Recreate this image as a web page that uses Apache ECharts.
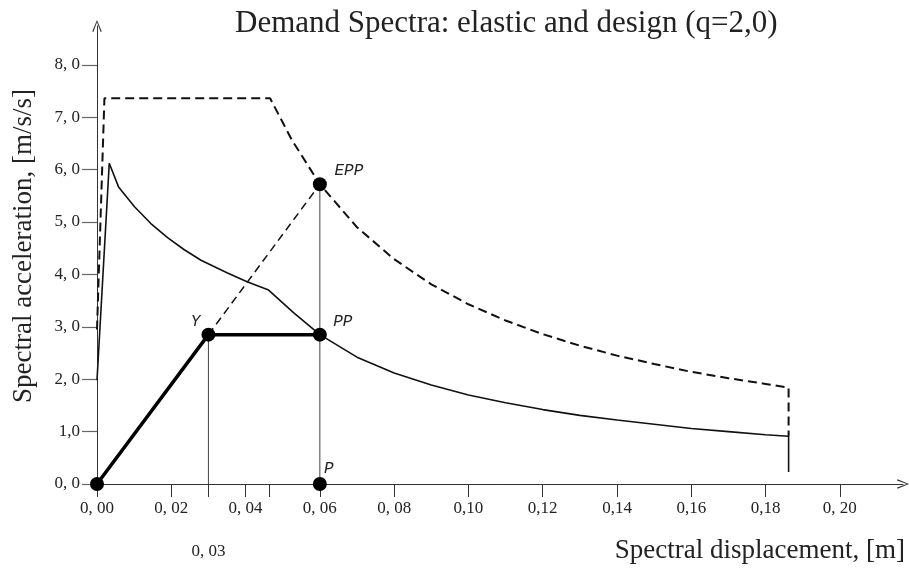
<!DOCTYPE html>
<html>
<head>
<meta charset="utf-8">
<script src="https://cdn.jsdelivr.net/npm/echarts@6/dist/echarts.min.js"></script>
<style>
  html, body { margin: 0; padding: 0; background: #fff; }
  #chart { width: 909px; height: 572px; }
</style>
</head>
<body>
<div id="chart"></div>
<script>
"use strict";
/** Tick positions and the labels printed under / beside them */
const xTickValues = [0, 0.02, 0.04, 0.06, 0.08, 0.10, 0.12, 0.14, 0.16, 0.18, 0.20];
const xTickLabels = ["0, 00", "0, 02", "0, 04", "0, 06", "0, 08", "0,10", "0,12", "0,14", "0,16", "0,18", "0, 20"];
/** extra marks on the displacement axis (yield and corner) */
const xExtraTicks = [0.03, 0.0465];
const yTickValues = [0, 1, 2, 3, 4, 5, 6, 7, 8];
const yTickLabels = ["0, 0", "1,0", "2, 0", "3, 0", "4, 0", "5, 0", "6, 0", "7, 0", "8, 0"];

/** Elastic demand spectrum (dashed) */
const elasticD = [0, 0.002, 0.0466, 0.0525, 0.06, 0.07, 0.08, 0.09, 0.10, 0.11, 0.12, 0.13, 0.14, 0.15, 0.16, 0.17, 0.18, 0.1862, 0.1862];
const elasticSa = [2.95, 7.36, 7.36, 6.56, 5.72, 4.90, 4.29, 3.81, 3.43, 3.12, 2.86, 2.64, 2.45, 2.29, 2.14, 2.02, 1.91, 1.84, 0.91];

/** Design spectrum, q = 2 (thin solid) */
const designD = [0, 0.0033, 0.0058, 0.0101, 0.0145, 0.019, 0.0235, 0.028, 0.035, 0.0404, 0.0462, 0.0529, 0.06, 0.07, 0.08, 0.09, 0.10, 0.11, 0.12, 0.13, 0.14, 0.15, 0.16, 0.17, 0.18, 0.1862, 0.1862];
const designSa = [1.98, 6.12, 5.67, 5.29, 4.97, 4.70, 4.47, 4.27, 4.03, 3.86, 3.70, 3.27, 2.85, 2.42, 2.12, 1.89, 1.70, 1.55, 1.42, 1.31, 1.22, 1.14, 1.06, 1.00, 0.94, 0.91, 0.23];

/** Bilinear capacity curve */
const capacityD = [0, 0.03, 0.06];
const capacitySa = [0, 2.85, 2.85];

/** Marked points */
const pointNames = ["", "Y", "PP", "EPP", "P"];
const pointD = [0, 0.03, 0.06, 0.06, 0.06];
const pointSa = [0, 2.85, 2.85, 5.72, 0];

/** Yield displacement printed below the axis */
const yieldLabel = "0, 03";

const title = "Demand Spectra: elastic and design (q=2,0)";
const yName = "Spectral acceleration, [m/s/s]";
const xName = "Spectral displacement, [m]";

const serif = "'Liberation Serif', 'Times New Roman', serif";
const ink = "#111";

function Pairs(xs, ys) {
    return xs.map((x, i) => [x, ys[i]]);
}

// label placement around each dot (left/up of Y, right/up of the others)
const labelOffsets = {
    "Y": [-13, -13],
    "PP": [23, -13],
    "EPP": [29, -13],
    "P": [9, -15]
};

const arrowPath = "path://M5,0 L10,12 L8.8,12.6 L5,2.4 L1.2,12.6 L0,12 Z";

let chart = echarts.init(document.getElementById("chart"), null, { renderer: "canvas" });

chart.setOption({
    animation: false,
    backgroundColor: "#fff",
    title: {
        text: title,
        left: 230,
        top: 3,
        textStyle: { fontFamily: serif, fontSize: 31, fontWeight: "normal", color: "#222" }
    },
    graphic: [{
        type: "text",
        right: 4,
        top: 537,
        style: { text: xName, font: "27px " + serif, fill: "#222" }
    }],
    grid: { left: 97, top: 26, right: 6, bottom: 88, containLabel: false, outerBoundsMode: "none" },
    xAxis: {
        type: "value",
        min: 0,
        max: 0.217,
        splitLine: { show: false },
        axisLine: {
            lineStyle: { color: "#333", width: 1 },
            symbol: ["none", arrowPath],
            symbolSize: [10, 12]
        },
        axisTick: {
            length: 13,
            lineStyle: { color: "#333", width: 1 },
            customValues: xTickValues.concat(xExtraTicks).sort((a, b) => a - b)
        },
        axisLabel: {
            customValues: xTickValues,
            margin: 16,
            fontFamily: serif,
            fontSize: 17,
            color: "#222",
            formatter: (v) => xTickLabels[Math.round(v / 0.02)]
        }
    },
    yAxis: {
        type: "value",
        min: 0,
        max: 8.74,
        name: yName,
        nameLocation: "middle",
        nameRotate: 90,
        nameGap: 60,
        nameTextStyle: { fontFamily: serif, fontSize: 27, color: "#222", padding: [0, 0, 0, 18] },
        splitLine: { show: false },
        axisLine: {
            lineStyle: { color: "#333", width: 1 },
            symbol: ["none", arrowPath],
            symbolSize: [10, 12]
        },
        axisTick: {
            length: 15,
            lineStyle: { color: "#666", width: 1.2 },
            customValues: yTickValues
        },
        axisLabel: {
            customValues: yTickValues,
            margin: 17,
            fontFamily: serif,
            fontSize: 17,
            color: "#222",
            verticalAlign: "middle",
            padding: [0, 0, 10, 0],
            formatter: (v) => yTickLabels[Math.round(v)]
        }
    },
    series: [
        {
            name: "elastic",
            type: "line",
            data: Pairs(elasticD, elasticSa),
            symbol: "none",
            lineStyle: { color: ink, width: 2, type: [9, 5] },
            z: 3
        },
        {
            name: "design",
            type: "line",
            data: Pairs(designD, designSa),
            symbol: "none",
            lineStyle: { color: ink, width: 1.6 },
            z: 3
        },
        {
            name: "capacity",
            type: "line",
            data: Pairs(capacityD, capacitySa),
            symbol: "none",
            lineStyle: { color: "#000", width: 3.5 },
            z: 4
        },
        {
            name: "equal displacement",
            type: "line",
            data: [[pointD[1], pointSa[1]], [pointD[3], pointSa[3]]],
            symbol: "none",
            lineStyle: { color: ink, width: 1.5, type: [8, 5] },
            z: 3
        },
        {
            name: "yield drop",
            type: "line",
            data: [[pointD[1], pointSa[1]], [pointD[1], 0]],
            symbol: "none",
            lineStyle: { color: "#444", width: 1 },
            z: 2
        },
        {
            name: "performance drop",
            type: "line",
            data: [[pointD[3], pointSa[3]], [pointD[4], pointSa[4]]],
            symbol: "none",
            lineStyle: { color: "#444", width: 1 },
            z: 2
        },
        {
            name: "points",
            type: "scatter",
            symbol: "circle",
            symbolSize: 14,
            itemStyle: { color: "#000", opacity: 1 },
            z: 5,
            data: pointD.map((d, i) => ({
                value: [d, pointSa[i]],
                label: {
                    show: pointNames[i] !== "",
                    formatter: pointNames[i],
                    position: "inside",
                    offset: labelOffsets[pointNames[i]] || [0, 0],
                    fontFamily: "'Liberation Mono', 'Courier New', monospace",
                    fontStyle: "italic",
                    fontSize: 16,
                    color: "#222"
                }
            }))
        },
        {
            name: "yield label",
            type: "scatter",
            symbolSize: 0,
            silent: true,
            itemStyle: { opacity: 1 },
            data: [[pointD[1], 0]],
            label: {
                show: true,
                formatter: yieldLabel,
                position: "inside",
                offset: [0, 68],
                fontFamily: serif,
                fontSize: 17,
                color: "#222"
            }
        }
    ]
});
</script>
</body>
</html>
